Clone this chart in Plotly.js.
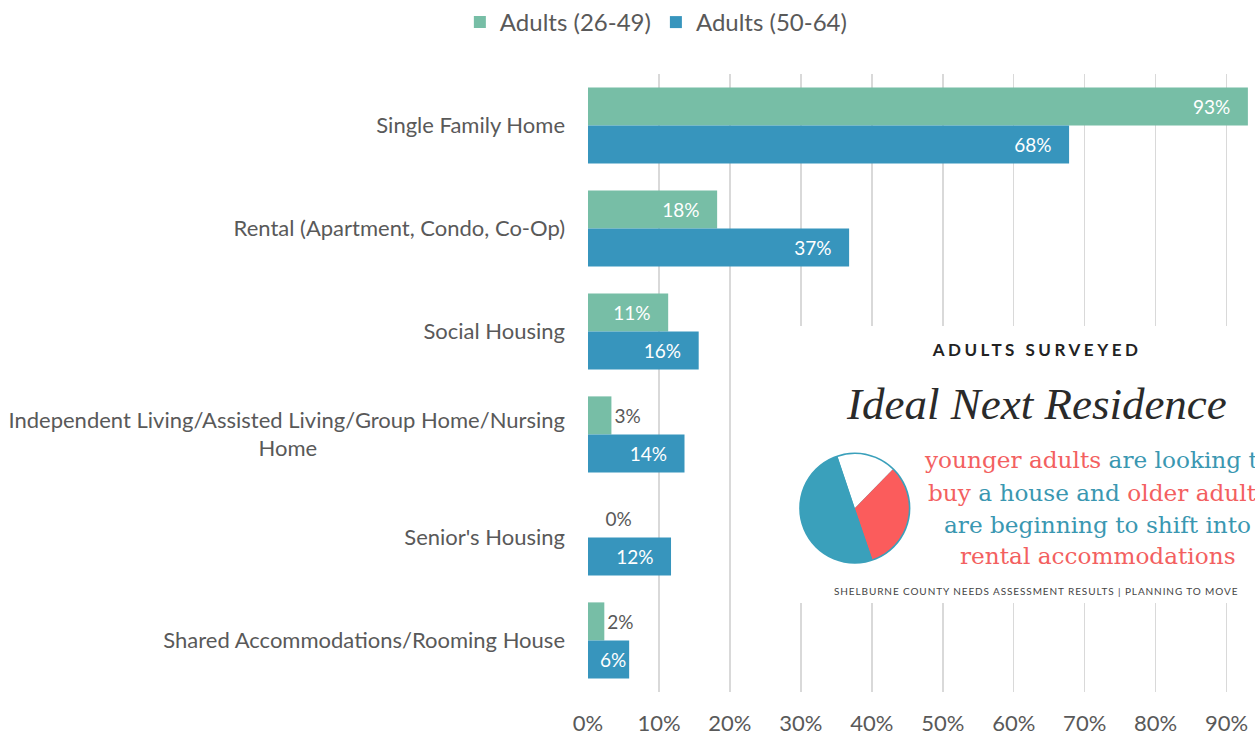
<!DOCTYPE html>
<html>
<head>
<meta charset="utf-8">
<script src="https://cdn.plot.ly/plotly-3.0.1.min.js"></script>
<style>
  html, body { margin: 0; padding: 0; background: #ffffff; }
  #chart { width: 1255px; height: 736px; }
  .annotation[data-index="0"] text { letter-spacing: 3.5px; }
  .annotation[data-index="6"] text { letter-spacing: 0.9px; }
</style>
</head>
<body>
<div id="chart"></div>
<script>
// ---- data ----
const categories = [
  "Single Family Home",
  "Rental (Apartment, Condo, Co-Op)",
  "Social Housing",
  "Independent Living/Assisted Living/Group Home/Nursing Home",
  "Senior's Housing",
  "Shared Accommodations/Rooming House"
];
const tickLabels = [
  "Single Family Home",
  "Rental (Apartment, Condo, Co-Op)",
  "Social Housing",
  "Independent Living/Assisted Living/Group Home/Nursing<br>Home" + "\u00a0".repeat(44),
  "Senior's Housing",
  "Shared Accommodations/Rooming House"
];
const seriesNames = ["Adults (26-49)", "Adults (50-64)"];
const adults2649 = [0.93, 0.182, 0.113, 0.033, 0.0, 0.023];
const adults5064 = [0.678, 0.368, 0.156, 0.136, 0.117, 0.058];
const xTickVals = [0, 0.1, 0.2, 0.3, 0.4, 0.5, 0.6, 0.7, 0.8, 0.9];
const xTickText = ["0%", "10%", "20%", "30%", "40%", "50%", "60%", "70%", "80%", "90%"];
// illustrative pie in the infographic (white / red / blue shares)
const pieLabels = ["other", "younger adults", "older adults"];
const pieValues = [17.5, 32.4, 50.1];
const pieRim = [1];

// ---- styles ----
const GREEN = "#77bea6";
const BLUE = "#3795bd";
const GRAY = "#595959";
const RED_T = "#f36060";
const BLUE_T = "#3a97b1";
const FONT = "Lato, 'Open Sans', sans-serif";
const SLAB = "'DejaVu Serif', serif";
const PAD = "\u00a0\u00a0\u00a0";

function labelsFor(vals) {
  return vals.map(v => (v === 0 ? "\u00a0\u00a0\u00a0" : "") + Math.round(v * 100) + "%" + (v >= 0.1 ? PAD : ""));
}
function positionsFor(vals) {
  return vals.map(v => (v < 0.05 ? "outside" : "inside"));
}
function span(c, t) { return "<span style='color:" + c + "'>" + t + "</span>"; }

const traces = [
  {
    type: "bar", orientation: "h", name: seriesNames[0],
    y: categories, x: adults2649,
    marker: { color: GREEN },
    text: labelsFor(adults2649),
    textposition: positionsFor(adults2649),
    insidetextanchor: "end",
    insidetextfont: { family: FONT, size: 19, color: "#ffffff" },
    outsidetextfont: { family: FONT, size: 19, color: GRAY },
    cliponaxis: false,
    hoverinfo: "none"
  },
  {
    type: "bar", orientation: "h", name: seriesNames[1],
    y: categories, x: adults5064,
    marker: { color: BLUE },
    text: labelsFor(adults5064),
    textposition: positionsFor(adults5064),
    insidetextanchor: "end",
    insidetextfont: { family: FONT, size: 19, color: "#ffffff" },
    outsidetextfont: { family: FONT, size: 19, color: GRAY },
    cliponaxis: false,
    hoverinfo: "none"
  },
  {
    type: "pie", labels: ["rim"], values: pieRim,
    marker: { colors: ["#3aa0bb"], line: { width: 0 } },
    textinfo: "none", hoverinfo: "none", showlegend: false,
    domain: { x: [0.3165, 0.4835], y: [0.2075, 0.3875] }
  },
  {
    type: "pie", labels: pieLabels, values: pieValues,
    sort: false, direction: "clockwise", rotation: -18.5,
    marker: { colors: ["#ffffff", "#fb5c5c", "#3aa0bb"], line: { width: 0 } },
    textinfo: "none", hoverinfo: "none", showlegend: false,
    domain: { x: [0.319, 0.481], y: [0.210, 0.385] }
  }
];

const msgLines = [
  span(RED_T, "younger adults") + " " + span(BLUE_T, "are looking to"),
  span(RED_T, "buy") + " " + span(BLUE_T, "a house and") + " " + span(RED_T, "older adults"),
  span(BLUE_T, "are beginning to shift into"),
  span(RED_T, "rental accommodations")
];
const msgY = [0.377, 0.3236, 0.2718, 0.2201];

const annotations = [
  { text: "<b>ADULTS SURVEYED</b>", xref: "paper", yref: "paper",
    x: 0.672, y: 0.554, xanchor: "center", yanchor: "middle", showarrow: false,
    font: { family: "Lato, sans-serif", size: 17, color: "#222222" } },
  { text: "Ideal Next Residence", xref: "paper", yref: "paper",
    x: 0.673, y: 0.466, xanchor: "center", yanchor: "middle", showarrow: false,
    font: { family: "'Liberation Serif', serif", size: 45, color: "#2a2a2a", style: "italic" } }
];
msgLines.forEach((t, i) => annotations.push({
  text: t, xref: "paper", yref: "paper", x: 0.764, y: msgY[i],
  xanchor: "center", yanchor: "middle", showarrow: false,
  font: { family: SLAB, size: 23.2, color: BLUE_T }
}));
annotations.push({ text: "SHELBURNE COUNTY NEEDS ASSESSMENT RESULTS | PLANNING TO MOVE", xref: "paper", yref: "paper",
  x: 0.673, y: 0.163, xanchor: "center", yanchor: "middle", showarrow: false,
  font: { family: "Lato, sans-serif", size: 10, color: "#444444" } });

const layout = {
  width: 1255, height: 736,
  margin: { l: 588, r: 0, t: 74, b: 44, pad: 0 },
  paper_bgcolor: "#ffffff", plot_bgcolor: "#ffffff",
  font: { family: FONT, color: GRAY },
  barmode: "group", bargap: 0.26, bargroupgap: 0,
  showlegend: true,
  legend: {
    orientation: "h", xref: "container", yref: "container",
    x: 0.523, xanchor: "center", y: 1.0, yanchor: "top",
    font: { family: FONT, size: 24, color: GRAY },
    traceorder: "normal", itemwidth: 30
  },
  xaxis: {
    range: [0, 0.94], tickvals: xTickVals, ticktext: xTickText,
    showgrid: true, gridcolor: "#d9d9d9", gridwidth: 1.5,
    zeroline: false, showline: false, ticks: "",
    tickfont: { family: FONT, size: 22, color: GRAY },
    ticklabelstandoff: 16, fixedrange: true
  },
  yaxis: {
    type: "category", autorange: "reversed",
    tickvals: categories, ticktext: tickLabels,
    showgrid: false, zeroline: false, showline: false, ticks: "",
    tickfont: { family: FONT, size: 22, color: GRAY },
    ticklabelstandoff: 22, fixedrange: true
  },
  shapes: [
    { type: "rect", xref: "x", yref: "y",
      x0: 0.277, x1: 1.0, y0: 1.947, y1: 4.636,
      fillcolor: "#ffffff", line: { width: 0 }, layer: "between" }
  ],
  annotations: annotations
};

Plotly.newPlot("chart", traces, layout, { displayModeBar: false, staticPlot: true });
</script>
</body>
</html>
